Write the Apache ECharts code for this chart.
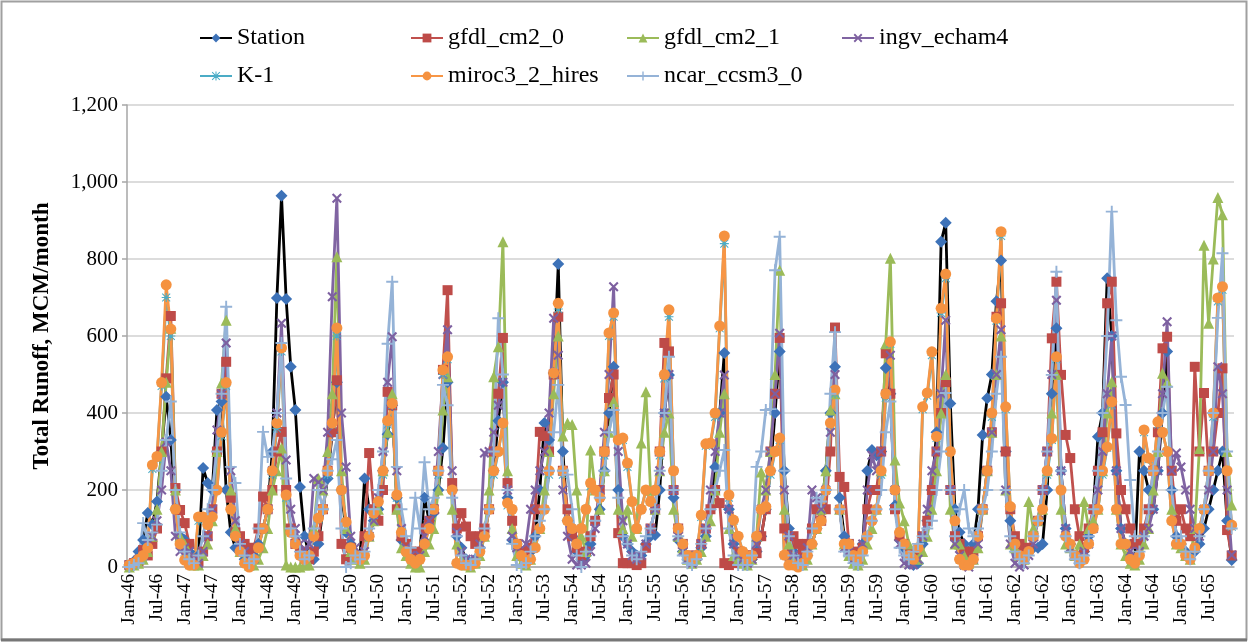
<!DOCTYPE html>
<html>
<head>
<meta charset="utf-8">
<title>Total Runoff</title>
<script src="https://cdn.jsdelivr.net/npm/echarts/dist/echarts.min.js"></script>
<style>
html,body{margin:0;padding:0;background:#fff;}
#myChart{width:1249px;height:643px;}
</style>
</head>
<body>
<div id="myChart"></div>
<script>
// tick labels: one category per month, Jan-46 .. Dec-65
const monthNames = ['Jan','Feb','Mar','Apr','May','Jun','Jul','Aug','Sep','Oct','Nov','Dec'];
const years = ['46','47','48','49','50','51','52','53','54','55','56','57','58','59','60','61','62','63','64','65'];
const categories = [];
years.forEach(y => monthNames.forEach(m => categories.push(m + '-' + y)));

const yTicks = [0, 200, 400, 600, 800, 1000, 1200];

// monthly runoff, MCM/month, one row per year (Jan..Dec)
const station = [
  5,15,40,70,140,110,170,300,442,330,150,80,
  70,40,20,30,257,218,200,408,430,200,90,50,
  50,20,5,30,60,100,150,300,699,964,696,520,
  408,208,80,30,20,60,150,230,350,480,200,90,
  60,30,20,230,150,120,150,250,345,420,180,70,
  60,30,20,40,180,120,140,200,309,480,200,80,
  50,20,10,20,50,80,150,250,380,480,180,70,
  60,30,20,40,80,200,374,330,504,787,300,120,
  80,40,20,30,60,120,150,250,400,520,200,80,
  60,40,30,30,60,80,83,200,400,499,180,70,
  40,20,10,20,50,80,150,260,400,556,150,60,
  30,10,5,20,40,80,150,250,400,560,250,100,
  40,20,10,30,60,100,150,250,400,520,180,80,
  50,30,20,60,250,304,290,300,517,450,160,70,
  50,10,5,10,60,120,200,350,845,894,425,150,
  90,60,40,60,150,343,438,500,690,796,300,120,
  60,30,20,40,50,50,60,200,450,620,250,100,
  60,30,20,40,80,150,338,400,750,600,250,100,
  60,30,20,300,250,200,150,250,400,560,200,80,
  60,40,20,40,60,100,150,200,250,300,120,18
];
const gfdl_cm2_0 = [
  5,10,15,44,30,60,100,300,490,652,205,148,
  114,60,20,15,40,80,150,300,450,533,180,90,
  80,60,40,50,100,183,150,200,300,351,200,100,
  60,40,20,20,40,80,150,250,350,485,60,20,
  50,30,20,80,296,150,120,200,455,420,150,80,
  60,40,30,40,100,120,150,250,512,719,218,100,
  140,105,80,60,80,100,150,300,450,595,218,120,
  60,40,30,50,150,351,340,300,500,650,250,150,
  80,50,30,40,80,120,200,300,439,500,88,10,
  10,10,5,10,50,100,150,300,582,560,200,100,
  60,30,20,30,60,100,150,200,166,10,5,10,
  40,30,30,30,36,80,150,300,450,595,100,30,
  80,60,40,60,100,150,120,150,300,622,234,208,
  60,40,30,50,150,200,200,300,555,450,150,80,
  60,40,30,40,80,120,200,300,400,480,200,80,
  60,40,20,40,80,150,250,350,650,685,300,150,
  80,60,40,50,80,120,200,300,594,741,499,343,
  283,150,80,50,100,150,250,350,685,741,347,200,
  150,100,60,60,100,150,250,350,568,598,250,120,
  150,100,80,520,300,452,250,300,400,516,96,30
];
const gfdl_cm2_1 = [
  0,5,10,20,40,80,150,300,480,620,200,80,
  60,30,5,5,30,60,120,300,478,641,200,100,
  40,20,5,5,20,50,100,200,250,309,5,0,
  0,0,5,5,100,230,200,300,450,806,250,100,
  40,20,10,20,80,120,150,250,350,450,150,50,
  30,10,0,0,40,60,100,200,408,494,150,60,
  20,5,0,10,30,80,200,494,572,845,250,100,
  30,10,5,20,60,100,200,300,450,600,340,374,
  370,200,80,40,304,200,150,250,350,430,150,100,
  150,80,100,322,455,200,150,250,350,400,150,80,
  50,20,10,20,40,80,120,200,350,450,100,30,
  20,10,5,20,80,247,200,300,500,771,150,60,
  30,10,5,20,60,100,150,250,408,450,150,60,
  30,10,5,20,60,100,150,250,580,802,278,166,
  120,60,30,20,40,80,150,250,400,500,150,60,
  60,30,10,20,50,150,250,350,500,600,200,60,
  50,30,20,170,100,120,150,250,400,500,150,60,
  50,30,60,170,100,120,150,250,400,481,150,60,
  30,10,5,20,60,100,200,300,503,480,150,60,
  50,30,20,100,308,836,633,800,960,915,300,161
];
const ingv_echam4 = [
  5,10,20,30,60,80,120,200,325,250,80,40,
  50,40,20,10,40,80,150,356,450,582,250,120,
  60,40,20,20,50,100,150,250,400,633,278,150,
  100,60,40,60,230,220,200,350,702,958,400,260,
  80,50,30,40,80,120,180,300,480,598,250,100,
  50,30,20,30,80,120,150,300,500,616,250,90,
  40,20,10,20,60,296,300,350,420,480,200,80,
  50,30,60,150,200,250,300,400,646,550,200,80,
  20,5,5,10,40,100,200,350,500,728,300,120,
  60,30,20,30,60,100,150,250,400,500,200,80,
  40,20,10,30,60,100,200,300,400,499,150,60,
  30,20,10,20,60,150,200,300,450,607,200,80,
  30,20,20,50,200,180,150,200,350,500,150,50,
  40,20,20,60,200,290,250,300,450,550,200,60,
  10,5,5,20,80,150,250,300,450,641,200,60,
  30,5,0,20,60,150,250,350,500,616,200,60,
  10,0,5,30,60,120,200,300,500,693,250,100,
  50,30,20,40,60,100,200,300,450,600,250,100,
  60,40,30,40,80,100,150,250,450,637,250,296,
  260,200,150,100,80,150,200,300,520,450,200,31
];
const k_1 = [
  5,8,18,28,50,255,280,470,700,600,150,60,
  20,5,5,120,125,110,130,200,340,470,150,80,
  40,10,0,20,50,100,150,240,360,560,180,90,
  60,30,20,30,80,125,150,240,370,600,200,115,
  50,30,20,30,80,135,170,240,370,420,180,90,
  40,20,10,20,60,100,150,240,500,540,200,10,
  5,5,5,10,40,80,150,240,300,370,160,150,
  60,30,10,20,50,100,150,240,500,670,240,120,
  100,60,100,150,210,200,180,290,600,650,330,330,
  260,170,100,150,200,170,200,290,490,650,250,100,
  60,30,20,30,130,315,320,390,620,840,180,120,
  80,40,20,30,80,150,155,240,300,330,30,5,
  5,0,10,30,60,100,120,200,370,450,150,60,
  60,30,20,40,80,120,150,240,440,580,200,90,
  60,30,20,50,410,445,550,335,660,750,300,120,
  20,5,5,20,80,150,250,390,640,860,410,155,
  60,30,20,40,80,120,150,240,330,540,200,80,
  60,30,10,20,60,100,150,240,310,420,150,60,
  60,20,10,30,350,280,250,370,350,300,120,60,
  60,30,20,50,100,150,250,390,690,720,250,105
];
const miroc3_2_hires = [
  5,10,20,30,50,265,287,479,733,618,150,60,
  18,5,5,130,130,110,130,200,350,479,150,80,
  40,10,0,20,50,100,150,250,374,569,187,90,
  60,30,20,30,80,127,150,250,374,621,200,117,
  50,30,20,30,80,140,170,250,380,425,187,90,
  40,20,10,20,60,100,150,250,512,546,200,10,
  5,5,5,10,40,80,150,250,300,374,166,150,
  60,30,10,20,50,100,150,250,504,685,250,120,
  100,60,100,150,218,200,180,300,608,660,330,335,
  270,170,100,150,200,170,200,300,500,668,250,100,
  60,30,20,30,135,320,322,400,626,860,187,122,
  80,40,20,30,80,150,157,250,300,335,31,5,
  5,0,10,30,60,100,120,200,374,460,150,60,
  60,30,20,40,80,120,150,250,450,585,200,90,
  60,30,20,50,416,452,559,339,672,761,300,120,
  20,5,5,20,80,150,250,400,646,871,416,157,
  60,30,20,40,80,120,150,250,334,546,200,80,
  60,30,10,20,60,100,150,250,312,429,150,60,
  60,20,10,30,356,283,250,377,350,300,120,60,
  60,30,20,50,100,150,250,400,699,728,250,109
];
const ncar_ccsm3_0 = [
  0,5,10,114,70,90,110,250,330,430,200,90,
  40,20,10,30,80,150,200,300,450,676,260,218,
  60,30,10,20,100,351,286,300,400,582,230,100,
  80,40,20,30,100,200,150,250,280,330,100,0,
  10,30,20,40,100,150,200,300,580,741,260,150,
  80,50,180,100,272,150,180,250,473,420,180,80,
  30,10,5,20,50,100,150,300,646,500,200,60,
  5,0,10,40,80,120,150,250,350,473,250,240,
  150,30,0,40,80,120,180,250,350,408,180,80,
  60,30,20,40,80,100,150,250,400,546,200,80,
  30,10,5,20,60,100,150,200,250,304,100,30,
  5,5,5,30,260,300,408,410,771,858,250,80,
  30,10,5,40,100,180,170,200,450,610,150,40,
  30,10,5,30,80,120,150,200,350,430,150,50,
  30,20,40,60,80,100,120,200,300,452,200,80,
  150,200,100,80,100,150,200,300,450,546,200,80,
  40,20,10,30,80,120,200,300,499,767,250,80,
  40,20,10,30,80,150,250,400,600,923,641,494,
  421,226,80,40,80,150,250,300,400,468,200,80,
  80,40,20,40,80,150,250,400,647,815,300,100
];

const serif = 'Liberation Serif, Times New Roman, serif';
const symX = 'path://M0,1.5L1.5,0L5,3.5L8.5,0L10,1.5L6.5,5L10,8.5L8.5,10L5,6.5L1.5,10L0,8.5L3.5,5Z';
const symPlus = 'path://M4.2,0H5.8V4.2H10V5.8H5.8V10H4.2V5.8H0V4.2H4.2Z';
const symStar = 'path://M4.4,0H5.6V4.4H10V5.6H5.6V10H4.4V5.6H0V4.4H4.4Z M1,0.2L5,4.2L9,0.2L9.8,1L5.8,5L9.8,9L9,9.8L5,5.8L1,9.8L0.2,9L4.2,5L0.2,1Z';

function makeSeries(name, data, lineColor, markColor, symbol, size) {
    return {
        name: name,
        type: 'line',
        data: data,
        symbol: symbol,
        symbolSize: size,
        showSymbol: true,
        showAllSymbol: true,
        lineStyle: {color: lineColor, width: 2.8},
        itemStyle: {color: markColor},
        emphasis: {disabled: true}
    };
}

function legendAt(name, left, top) {
    return {
        data: [name],
        left: left,
        top: top,
        itemWidth: 32,
        itemHeight: 11,
        itemGap: 0,
        textStyle: {fontFamily: serif, fontSize: 24, color: '#000'}
    };
}

const myChart = echarts.init(document.getElementById('myChart'));
const option = {
    animation: false,
    backgroundColor: '#fff',
    graphic: [
        {type: 'rect', shape: {x: 1.5, y: 1.5, width: 1245, height: 638},
         style: {fill: 'none', stroke: '#a0a0a0', lineWidth: 2}, silent: true},
        {type: 'line', shape: {x1: 1, y1: 640, x2: 1247, y2: 640},
         style: {stroke: '#777', lineWidth: 3}, silent: true}
    ],
    legend: [
        legendAt('Station', 194, 21),
        legendAt('gfdl_cm2_0', 405, 21),
        legendAt('gfdl_cm2_1', 621, 21),
        legendAt('ingv_echam4', 836, 21),
        legendAt('K-1', 194, 59),
        legendAt('miroc3_2_hires', 405, 59),
        legendAt('ncar_ccsm3_0', 621, 59)
    ],
    grid: {left: 127, right: 15, top: 105, bottom: 76},
    xAxis: {
        type: 'category',
        data: categories,
        boundaryGap: true,
        axisLine: {lineStyle: {color: '#a6a6a6', width: 1.5}},
        axisTick: {interval: 5, length: 5, lineStyle: {color: '#a6a6a6', width: 1.5}},
        axisLabel: {
            interval: 5, rotate: 90, margin: 7,
            fontFamily: serif, fontSize: 19, color: '#000'
        },
        splitLine: {show: false}
    },
    yAxis: {
        type: 'value',
        min: yTicks[0],
        max: yTicks[yTicks.length - 1],
        interval: 200,
        name: 'Total Runoff, MCM/month',
        nameLocation: 'middle',
        nameGap: 73,
        nameTextStyle: {fontFamily: serif, fontWeight: 'bold', fontSize: 23, color: '#000'},
        axisLine: {show: true, lineStyle: {color: '#a6a6a6', width: 1.5}},
        axisTick: {show: true, length: 5, lineStyle: {color: '#a6a6a6', width: 1.5}},
        axisLabel: {
            margin: 9, fontFamily: serif, fontSize: 21, color: '#000',
            formatter: (v) => v.toLocaleString('en-US')
        },
        splitLine: {lineStyle: {color: '#d0d0d0', width: 1.5}}
    },
    series: [
        makeSeries('Station', station, '#000000', '#3d72b8', 'diamond', 12),
        makeSeries('gfdl_cm2_0', gfdl_cm2_0, '#c0504d', '#be4b48', 'rect', 10),
        makeSeries('gfdl_cm2_1', gfdl_cm2_1, '#9bbb59', '#9bbb59', 'triangle', 11),
        makeSeries('ingv_echam4', ingv_echam4, '#8064a2', '#7d60a0', symX, 10),
        makeSeries('K-1', k_1, '#4bacc6', '#4bacc6', symStar, 9),
        makeSeries('miroc3_2_hires', miroc3_2_hires, '#f79646', '#f59240', 'circle', 11),
        makeSeries('ncar_ccsm3_0', ncar_ccsm3_0, '#95b3d7', '#95b3d7', symPlus, 12)
    ]
};
myChart.setOption(option);

window.addEventListener('resize', myChart.resize);
</script>
</body>
</html>
